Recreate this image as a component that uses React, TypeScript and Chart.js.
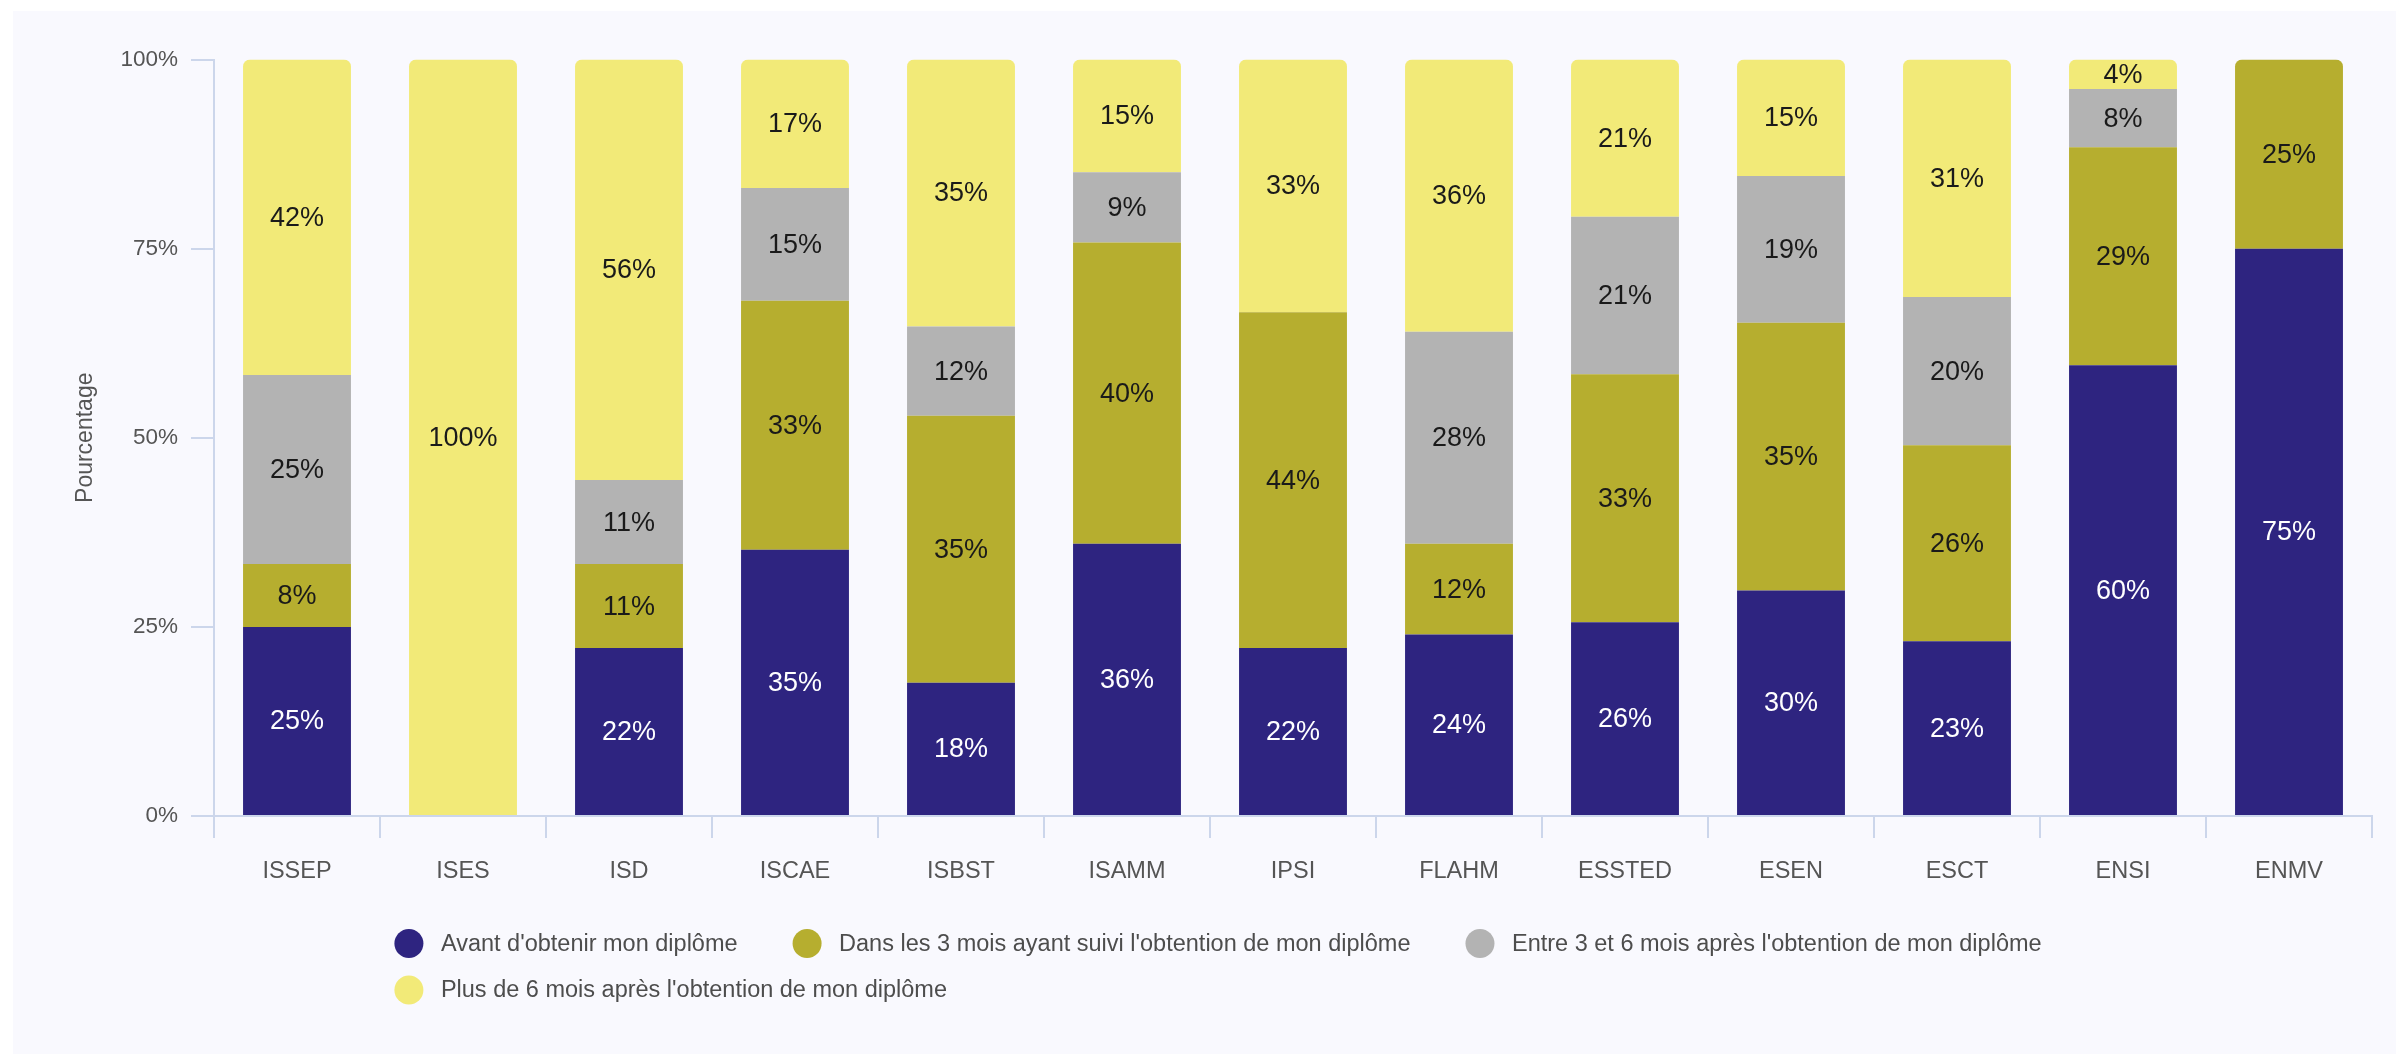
import React, { useEffect, useRef } from "react";
import { Chart, registerables } from "chart.js";

Chart.register(...registerables);

const FONT = '"Liberation Sans", Arial, Helvetica, sans-serif';

const categories = ["ISSEP", "ISES", "ISD", "ISCAE", "ISBST", "ISAMM", "IPSI", "FLAHM", "ESSTED", "ESEN", "ESCT", "ENSI", "ENMV"];

const seriesNames = [
  "Avant d'obtenir mon diplôme",
  "Dans les 3 mois ayant suivi l'obtention de mon diplôme",
  "Entre 3 et 6 mois après l'obtention de mon diplôme",
  "Plus de 6 mois après l'obtention de mon diplôme",
];

const avant = [25, 0, 22.2, 35.2, 17.6, 36.0, 22.2, 24, 25.6, 29.8, 23.1, 59.6, 75];
const dans3Mois = [8.3, 0, 11.1, 32.9, 35.3, 39.8, 44.4, 12, 32.8, 35.4, 25.9, 28.8, 25];
const entre3et6 = [25, 0, 11.1, 14.9, 11.8, 9.3, 0, 28, 20.8, 19.4, 19.6, 7.7, 0];
const plus6Mois = [41.7, 100, 55.6, 17.0, 35.3, 14.9, 33.4, 36, 20.8, 15.4, 31.4, 3.9, 0];

const yTicks = [0, 25, 50, 75, 100];
const yTickLabels = ["0%", "25%", "50%", "75%", "100%"];

const seriesColors = ["#2e2480", "#b6ae2f", "#b3b3b3", "#f2ea78"];
const labelColors = ["#ffffff", "#1a1a1a", "#1a1a1a", "#1a1a1a"];

const AXIS_COLOR = "#ccd6eb";
const TEXT_COLOR = "#555555";

const valueLabelPlugin = {
  id: "valueLabels",
  afterDatasetsDraw(chart: any) {
    const ctx = chart.ctx;
    ctx.save();
    ctx.font = `27px ${FONT}`;
    ctx.textAlign = "center";
    ctx.textBaseline = "middle";
    chart.data.datasets.forEach((ds: any, di: number) => {
      const meta = chart.getDatasetMeta(di);
      meta.data.forEach((el: any, i: number) => {
        const v = ds.data[i];
        if (!v || v <= 0) return;
        const p = el.getProps(["x", "y", "base"], true);
        ctx.fillStyle = labelColors[di];
        ctx.fillText(`${Math.round(v)}%`, p.x, (p.y + p.base) / 2 + 1);
      });
    });
    ctx.restore();
  },
};

const legendPlugin = {
  id: "customLegend",
  afterDraw(chart: any) {
    const ctx = chart.ctx;
    const ds = chart.data.datasets;
    ctx.save();
    ctx.font = `23.5px ${FONT}`;
    const r = 14.5;
    const textGap = 32;
    const itemGap = 55;
    const rowH = 46.5;
    const maxRow = 1900;
    const widths = ds.map((d: any) => r + textGap + ctx.measureText(d.label).width);
    const rows: number[][] = [[]];
    let w = 0;
    widths.forEach((iw: number, i: number) => {
      const add = (rows[rows.length - 1].length ? itemGap : 0) + iw;
      if (w + add > maxRow && rows[rows.length - 1].length) {
        rows.push([i]);
        w = iw;
      } else {
        rows[rows.length - 1].push(i);
        w += add;
      }
    });
    const row0W = rows[0].reduce((s, i, k) => s + widths[i] + (k ? itemGap : 0), 0);
    const centerX = chart.width / 2 + 13.5;
    const startX = centerX - row0W / 2;
    const baseY = chart.chartArea.bottom + 127.5;
    rows.forEach((row, ri) => {
      let x = startX;
      const y = baseY + ri * rowH;
      row.forEach((i) => {
        ctx.fillStyle = ds[i].backgroundColor;
        ctx.beginPath();
        ctx.arc(x + r, y, r, 0, Math.PI * 2);
        ctx.fill();
        ctx.fillStyle = "#4d4d4d";
        ctx.textAlign = "left";
        ctx.textBaseline = "middle";
        ctx.fillText(ds[i].label, x + r + textGap, y + 1);
        x += widths[i] + itemGap;
      });
    });
    ctx.restore();
  },
};

export default function App() {
  const ref = useRef<HTMLCanvasElement | null>(null);

  useEffect(() => {
    if (!ref.current) return;
    const seriesData = [avant, dans3Mois, entre3et6, plus6Mois];
    const chart = new Chart(ref.current, {
      type: "bar",
      data: {
        labels: categories,
        datasets: seriesNames.map((name, i) => ({
          label: name,
          data: seriesData[i],
          backgroundColor: seriesColors[i],
          borderWidth: 0,
          borderRadius: 7,
          borderSkipped: "start" as const,
          barPercentage: 0.65,
          categoryPercentage: 1,
        })),
      },
      options: {
        responsive: false,
        devicePixelRatio: 1,
        animation: false,
        layout: { padding: { left: 0, top: 48.5, right: 24, bottom: 0 } },
        plugins: {
          legend: { display: false },
          tooltip: { enabled: false },
        },
        scales: {
          x: {
            stacked: true,
            grid: {
              display: true,
              drawOnChartArea: false,
              drawTicks: true,
              tickLength: 22,
              color: AXIS_COLOR,
              lineWidth: 2,
              offset: true,
            },
            border: { display: true, color: AXIS_COLOR, width: 2 },
            ticks: {
              color: TEXT_COLOR,
              font: { family: FONT, size: 23.5 },
              padding: 19,
              maxRotation: 0,
              autoSkip: false,
            },
            afterFit: (s: any) => {
              s.height = 238;
            },
          },
          y: {
            stacked: true,
            min: 0,
            max: 100,
            afterBuildTicks: (s: any) => {
              s.ticks = yTicks.map((v) => ({ value: v }));
            },
            grid: {
              display: true,
              drawOnChartArea: false,
              drawTicks: true,
              tickLength: 23,
              color: AXIS_COLOR,
              lineWidth: 2,
            },
            border: { display: true, color: AXIS_COLOR, width: 2 },
            ticks: {
              color: TEXT_COLOR,
              font: { family: FONT, size: 22.5 },
              padding: 13,
              callback: (v: any) => {
                const idx = yTicks.indexOf(Number(v));
                return idx >= 0 ? yTickLabels[idx] : "";
              },
            },
            title: {
              display: true,
              text: "Pourcentage",
              color: TEXT_COLOR,
              font: { family: FONT, size: 23 },
              padding: { top: 59, bottom: 0 },
            },
            afterFit: (s: any) => {
              s.width = 201;
            },
          },
        },
      },
      plugins: [valueLabelPlugin, legendPlugin],
    });
    return () => chart.destroy();
  }, []);

  return (
    <div style={{ position: "fixed", left: 0, top: 0, width: 2396, height: 1054, background: "#ffffff", overflow: "hidden" }}>
      <div style={{ position: "absolute", left: 13, top: 11, width: 2383, height: 1043, background: "#f9f9fe" }}>
        <canvas ref={ref} width={2383} height={1043} style={{ display: "block", width: 2383, height: 1043 }} />
      </div>
    </div>
  );
}
